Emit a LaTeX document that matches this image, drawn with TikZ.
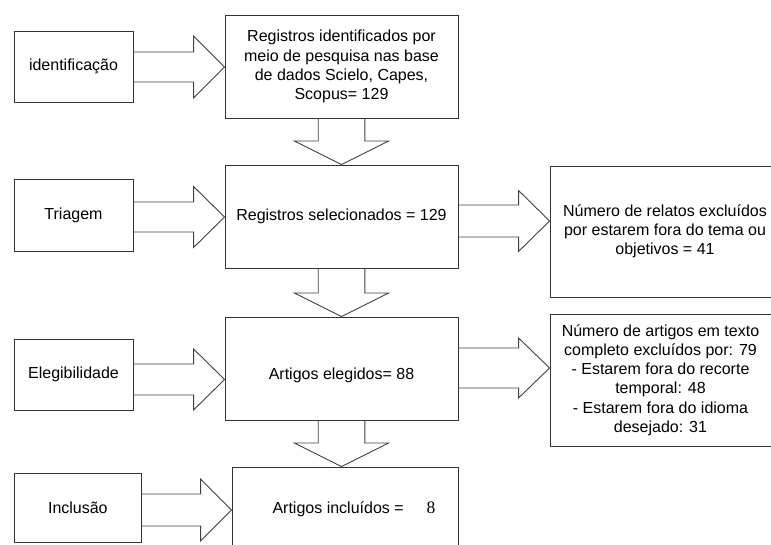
\documentclass[tikz,border=0pt]{standalone}
\usepackage{fontspec}
\setmainfont{Liberation Sans}
\newfontfamily\numserif{Liberation Serif}
\usetikzlibrary{calc}
\usetikzlibrary{positioning}

\tikzset{
  stagebox/.style={draw=black!80, line width=0.9pt, minimum width=119pt,
    minimum height=71pt, inner sep=0pt, align=center,
    font=\fontsize{16}{19.2}\selectfont},
  flowbox/.style={draw=black!80, line width=0.9pt, minimum width=233pt,
    minimum height=103pt, inner sep=0pt, align=center,
    font=\fontsize{16}{19.2}\selectfont},
  fatarrow/.style={draw=black!75, line width=0.9pt, line join=miter},
}

%% block arrow to the right: from, to, axis height, half shaft, half head
\newcommand{\fatright}[5]{%
  \draw[fatarrow] let \p1=(#1.east), \p2=(#2.west) in
    (\x1,#3+#4) -- (\x2-31,#3+#4) -- (\x2-31,#3+#5) -- (\x2,#3)
    -- (\x2-31,#3-#5) -- (\x2-31,#3-#4) -- (\x1,#3-#4);}

%% block arrow down: from, to
\newcommand{\fatdown}[2]{%
  \draw[fatarrow] let \p1=(#1.south), \p2=(#2.north) in
    (\x1-23.3,\y1) -- (\x1-23.3,\y2+23.5) -- (\x1-47,\y2+23.5) -- (\x1,\y2)
    -- (\x1+47,\y2+23.5) -- (\x1+23.3,\y2+23.5) -- (\x1+23.3,\y1);}

\begin{document}
\begin{tikzpicture}[x=1pt,y=1pt]
  \useasboundingbox (0,0) rectangle (771,545);

  %% stages
  \node[stagebox] (idf) at (73.5,478.5) {identificação};
  \node[stagebox, minimum height=72pt] (tri) at (73.5,330) {Triagem};
  \node[stagebox] (elg) at (73.5,170.5) {Elegibilidade};
  \node[stagebox, minimum width=127.7pt, minimum height=69pt] (inc) at (77.85,37.5) {Inclusão};

  %% main column
  \node[flowbox] (reg) at (341.5,478.5)
    {Registros identificados por\\meio de pesquisa nas base\\de dados Scielo, Capes,\\Scopus= 129};
  \node[flowbox] (sel) at (341.5,328.5) {Registros selecionados = 129};
  \node[flowbox, text height=24.5pt] (egd) at (341.5,176.5) {Artigos elegidos= 88};
  \node[flowbox, minimum width=226pt, minimum height=84pt] (incl) at (345,36)
    {\hspace{18pt}Artigos incluídos =\hspace{23pt}{\numserif\fontsize{17.5}{19}\selectfont 8}};

  %% exclusions
  \node[flowbox, minimum width=230pt, minimum height=131pt] (exc1) at (665,313.5)
    {Número de relatos excluídos\\por estarem fora do tema ou\\objetivos = 41};
  \node[flowbox, minimum width=221pt, minimum height=132pt] (exc2) at (660.5,165)
    {Número de artigos em texto\\completo excluídos por: 79\\- Estarem fora do recorte\\temporal: 48\\- Estarem fora do idioma\\desejado: 31};

  %% arrows
  \fatright{idf}{reg}{478}{15}{31}
  \fatright{tri}{sel}{328}{15}{30.5}
  \fatright{elg}{egd}{165.5}{15.5}{30.5}
  \fatright{inc}{incl}{35}{16}{31}
  \fatright{sel}{exc1}{324}{16}{30.5}
  \fatright{egd}{exc2}{177}{20}{30}
  \foreach \a/\b in {reg/sel,sel/egd,egd/incl}
    \fatdown{\a}{\b};
\end{tikzpicture}
\end{document}
